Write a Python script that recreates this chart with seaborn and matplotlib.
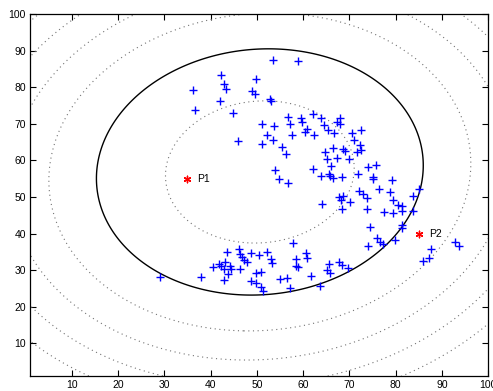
import numpy as np
import pandas as pd
import matplotlib
matplotlib.use("Agg")
import matplotlib.pyplot as plt
import seaborn as sns

# ---- data -------------------------------------------------------------
pts_x = [53.5, 58.8, 42.3, 49.8, 42.8, 43.3, 36.3, 49.0, 49.5, 42.1, 52.8, 53.0, 36.6, 44.9,
         56.7, 59.6, 62.2, 63.8, 59.7, 51.2, 57.2, 53.8, 64.5, 65.3, 60.8, 60.5, 62.4, 52.3,
         57.7, 45.9, 53.4, 51.1, 55.5, 56.3, 64.8, 65.2, 53.9, 62.2,
         68.0, 67.3, 68.0, 66.6, 70.5, 72.6, 70.9, 72.2, 66.4, 68.7, 69.0, 72.5, 71.6, 67.4,
         70.0, 74.0, 75.7, 66.0, 65.9, 65.6, 63.8, 66.5, 68.3, 71.8, 75.0, 75.2, 79.3, 76.3,
         72.1, 73.0, 78.8, 85.0, 83.7, 67.8, 68.7, 73.8, 68.1, 70.1, 79.5, 80.6, 81.4, 64.0,
         68.4, 73.9, 81.4, 77.5, 79.5, 83.7, 54.8, 56.8,
         74.4, 81.4, 81.3, 76.0, 76.5, 77.3, 79.9, 74.1, 60.6, 60.9, 65.6, 67.8, 68.5, 69.6,
         65.1, 65.8, 61.7, 63.7, 87.7, 87.1, 85.8, 92.8, 93.7,
         57.9, 43.6, 46.1, 46.4, 46.7, 48.7, 50.4, 52.3, 47.2, 47.8, 53.0, 53.2, 58.4, 58.5,
         58.8, 40.6, 41.8, 42.3, 43.1, 44.2, 44.5, 42.8, 46.4, 43.8, 42.8, 38.0, 29.0, 49.8,
         50.8, 48.7, 49.8, 51.0, 51.3, 55.0, 56.6, 57.1]
pts_y = [87.4, 87.1, 83.3, 82.3, 80.8, 79.6, 79.3, 79.1, 78.2, 76.4, 76.7, 76.4, 73.9, 73.1,
         71.9, 71.7, 72.6, 71.6, 70.5, 69.9, 69.9, 69.5, 69.8, 68.2, 68.6, 67.8, 67.0, 67.1,
         66.9, 65.4, 65.5, 64.5, 63.8, 61.7, 62.3, 60.4, 57.5, 57.6,
         71.5, 70.5, 69.9, 67.5, 67.6, 68.4, 65.5, 64.2, 63.5, 63.1, 62.6, 62.9, 62.2, 60.8,
         60.3, 58.3, 58.7, 58.4, 55.8, 56.4, 55.7, 55.1, 55.5, 56.3, 55.4, 54.9, 54.6, 52.1,
         51.6, 50.9, 51.3, 52.1, 50.3, 50.1, 50.3, 49.6, 49.1, 48.5, 49.1, 47.8, 47.6, 48.0,
         46.7, 46.6, 46.2, 45.8, 45.5, 46.1, 54.9, 53.7,
         41.7, 42.3, 41.4, 38.7, 37.8, 37.0, 38.2, 36.6, 34.6, 33.4, 31.6, 32.1, 31.4, 30.6,
         30.0, 29.3, 28.5, 25.5, 35.7, 33.2, 32.5, 37.8, 36.5,
         37.3, 35.0, 35.8, 34.4, 33.7, 34.6, 34.2, 35.0, 32.8, 32.1, 32.9, 31.9, 32.9, 31.2,
         30.8, 30.8, 31.7, 31.2, 32.1, 31.2, 30.2, 30.2, 30.3, 29.0, 27.3, 28.0, 28.2, 29.1,
         29.6, 27.1, 26.4, 25.3, 24.3, 27.6, 27.8, 25.2]

ref_names = ["P1", "P2"]
ref_x = [35, 85]
ref_y = [55, 40]

# Gaussian-like distance field for the elliptical contours
center = [50.65, 56.85]
sigma_x, sigma_y, rho = 35.3, 33.7, 0.053
dotted_levels = [1 / 3, 5 / 3, 7 / 3, 3.0, 11 / 3]
solid_levels = [1.0]

x_ticks = [10, 20, 30, 40, 50, 60, 70, 80, 90, 100]
y_ticks = [10, 20, 30, 40, 50, 60, 70, 80, 90, 100]

# ---- figure -----------------------------------------------------------
plt.rcParams['font.family'] = ['Liberation Sans', 'DejaVu Sans']
fig = plt.figure(figsize=(4.93, 3.91), dpi=100)
ax = fig.add_axes([30 / 493, 15 / 391, (488.3 - 30) / 493, (376 - 14.3) / 391])

gx = np.linspace(0, 101, 500)
gy = np.linspace(0, 101, 500)
GX, GY = np.meshgrid(gx, gy)
u = (GX - center[0]) / sigma_x
v = (GY - center[1]) / sigma_y
D2 = (u ** 2 + v ** 2 - 2 * rho * u * v) / (1 - rho ** 2)

ax.contour(GX, GY, D2, levels=dotted_levels, colors='0.45',
           linewidths=0.8, linestyles=[(0, (1, 3.2))])
ax.contour(GX, GY, D2, levels=solid_levels, colors='black', linewidths=1.0)

df = pd.DataFrame({"x": pts_x, "y": pts_y})
sns.scatterplot(data=df, x="x", y="y", marker='+', color='blue', s=30,
                linewidth=1.0, ax=ax, zorder=3)

refs = pd.DataFrame({"x": ref_x, "y": ref_y, "name": ref_names})
sns.scatterplot(data=refs, x="x", y="y", marker=(6, 2, 0), color='red', s=22,
                linewidth=1.0, ax=ax, zorder=4)
for _, r in refs.iterrows():
    ax.text(r["x"] + 2.2, r["y"], r["name"], fontsize=7.5, va='center', ha='left')

ax.set_xlim(1, 100)
ax.set_ylim(1, 100)
ax.set_xticks(x_ticks)
ax.set_yticks(y_ticks)
ax.set_xlabel("")
ax.set_ylabel("")
ax.tick_params(direction='in', top=True, right=True, length=4, width=0.8,
               labelsize=7.5, pad=3)
for s in ax.spines.values():
    s.set_linewidth(0.9)
    s.set_color('black')

fig.savefig("out.png", dpi=100)
